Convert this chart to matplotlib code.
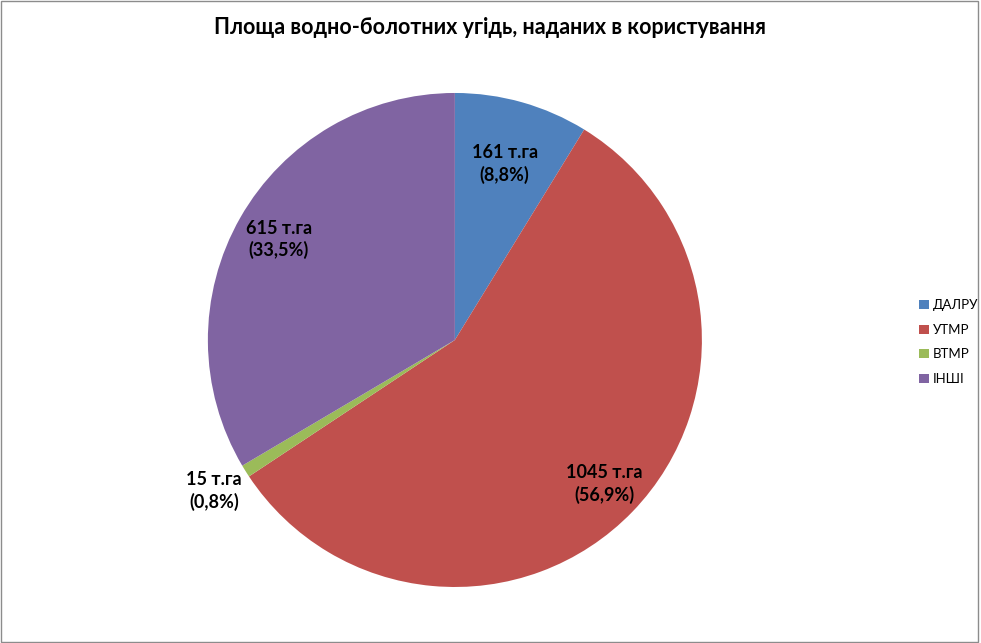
import numpy as np
import matplotlib.pyplot as plt
from matplotlib.patches import Rectangle

plt.rcParams['font.family'] = ['Lato', 'DejaVu Sans']

categories = ['ДАЛРУ', 'УТМР', 'ВТМР', 'ІНШІ']
areas = [161, 1045, 15, 615]
shares = ['8,8%', '56,9%', '0,8%', '33,5%']
colors = ['#4F81BD', '#C0504D', '#9BBB59', '#8064A2']
label_dist = [0.74, 0.84, 1.15, 0.82]

fig = plt.figure(figsize=(9.81, 6.43), dpi=100)
fig.patches.append(Rectangle((0.001, 0.002), 0.996, 0.996, transform=fig.transFigure,
                             fill=False, edgecolor='#8c8c8c', linewidth=1))

ax = fig.add_axes([0.2119, 0.0871, 0.5036, 0.7683])
wedges, _ = ax.pie(areas, colors=colors, startangle=90, counterclock=False,
                   wedgeprops=dict(linewidth=0))
ax.set_xlim(-1, 1)
ax.set_ylim(-1, 1)
ax.set_aspect('equal')

for w, a, s, d in zip(wedges, areas, shares, label_dist):
    mid = np.deg2rad((w.theta1 + w.theta2) / 2)
    ax.text(d * np.cos(mid), d * np.sin(mid), f'{a} т.га\n({s})', ha='center', va='center',
            fontsize=13, fontweight='bold', linespacing=1.3, clip_on=False)

fig.text(0.5, 0.957, 'Площа водно-болотних угідь, наданих в користування', ha='center', va='center',
         fontsize=15.5, fontweight='bold')

fig.legend(wedges, categories, loc='center left', bbox_to_anchor=(0.925, 0.468), frameon=False,
           fontsize=9.5, handlelength=0.7, handleheight=0.7, handletextpad=0.3, labelspacing=0.95)

fig.savefig('out.png', dpi=100)
